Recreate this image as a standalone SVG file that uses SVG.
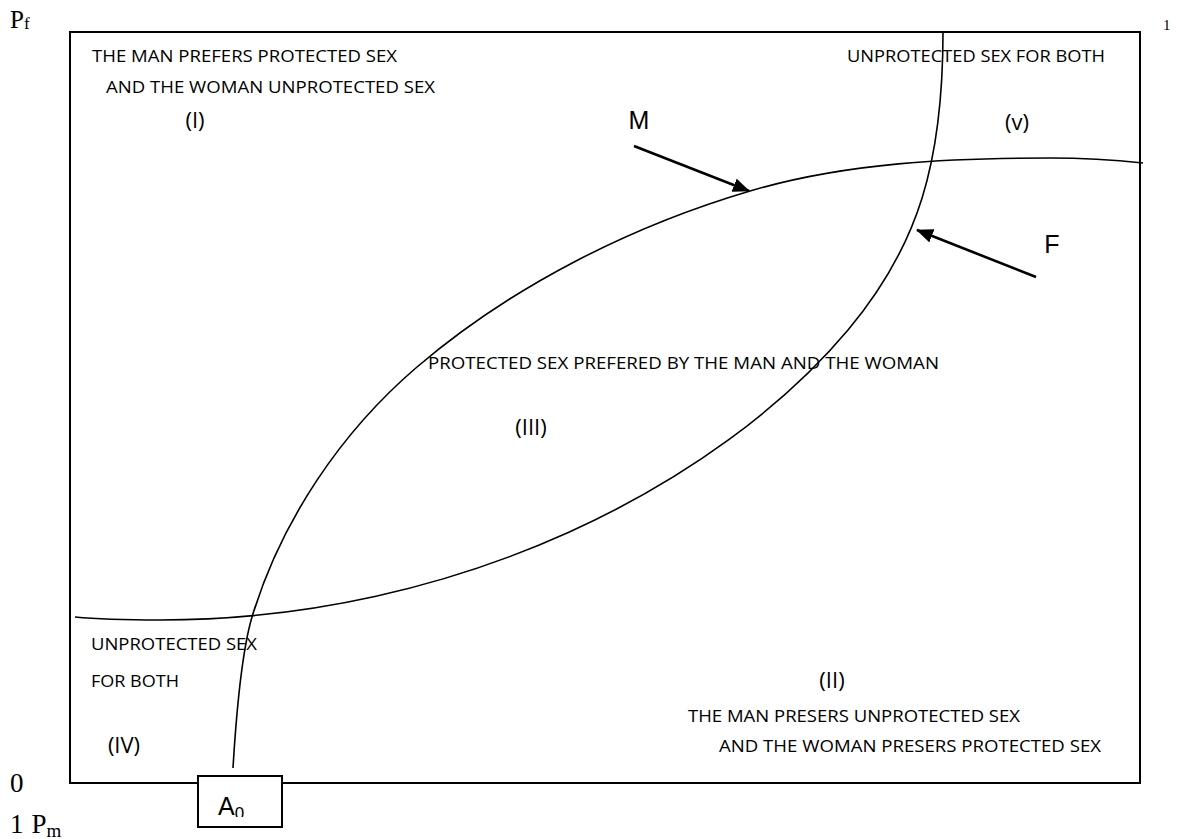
<svg xmlns="http://www.w3.org/2000/svg" width="1178" height="839" viewBox="0 0 1178 839">
<style>
.t{font-family:"Open Sans","Liberation Sans",sans-serif;font-size:17px;fill:#000}
.r{font-family:"Open Sans","Liberation Sans",sans-serif;font-size:22px;fill:#000;text-anchor:middle}
.a{font-family:"Liberation Sans",Arial,sans-serif;font-size:25px;fill:#000}
.s{font-family:"Liberation Serif","Times New Roman",serif;fill:#000}
.curve{fill:none;stroke:#000;stroke-width:1.6}
.arr{fill:none;stroke:#000;stroke-width:2.6}
</style>
<defs>
<marker id="head" markerUnits="userSpaceOnUse" markerWidth="18" markerHeight="14" refX="16" refY="7" orient="auto">
<path d="M0,0 L17,7 L0,14 z" fill="#000"/>
</marker>
<clipPath id="a0clip"><rect x="198" y="776" width="84" height="41"/></clipPath>
</defs>
<rect width="1178" height="839" fill="#fff"/>

<g id="axes">
<text class="s" x="10" y="28" font-size="25">P<tspan font-size="17" dy="1">f</tspan></text>
<text class="s" x="1163" y="30" font-size="15">1</text>
<text class="s" x="10" y="792" font-size="27">0</text>
<text class="s" x="10" y="833" font-size="27">1<tspan dx="8">P</tspan><tspan font-size="19" dy="4">m</tspan></text>
</g>

<g id="frame">
<rect x="70" y="32" width="1070" height="751" fill="none" stroke="#000" stroke-width="2"/>
</g>

<g id="connectors">
<path id="curveM" class="curve" d="M233,768 C236,718 242,651 252,617 C281,521 341,432 417,367 C512,286 630,226.5 750,191 C846,162.6 950,158 1050,158 C1080,158 1115,160 1143,163"/>
<path id="curveF" class="curve" d="M75,617 C100,619.5 130,620 160,620 C460,620 719.4,483.2 848,330 C918.7,245.7 943,162 943,32"/>
<line id="arrowM" class="arr" x1="634" y1="146" x2="749" y2="191" marker-end="url(#head)"/>
<line id="arrowF" class="arr" x1="1036" y1="277" x2="917" y2="230" marker-end="url(#head)"/>
</g>

<g id="region-I">
<text class="t" x="92" y="62" textLength="305" lengthAdjust="spacingAndGlyphs">THE MAN PREFERS PROTECTED SEX</text>
<text class="t" x="106" y="93" textLength="329" lengthAdjust="spacingAndGlyphs">AND THE WOMAN UNPROTECTED SEX</text>
<text class="r" x="195" y="128">(I)</text>
</g>

<g id="region-V">
<text class="t" x="847" y="62" textLength="258" lengthAdjust="spacingAndGlyphs">UNPROTECTED SEX FOR BOTH</text>
<text class="r" x="1017" y="130">(v)</text>
</g>

<g id="label-M"><text class="a" x="639" y="129" text-anchor="middle">M</text></g>
<g id="label-F"><text class="a" x="1052" y="253" text-anchor="middle">F</text></g>

<g id="region-III">
<text class="t" x="428" y="369" textLength="511" lengthAdjust="spacingAndGlyphs">PROTECTED SEX PREFERED BY THE MAN AND THE WOMAN</text>
<text class="r" x="531" y="435">(III)</text>
</g>

<g id="region-IV">
<text class="t" x="91" y="650" textLength="166" lengthAdjust="spacingAndGlyphs">UNPROTECTED SEX</text>
<text class="t" x="91" y="687" textLength="88" lengthAdjust="spacingAndGlyphs">FOR BOTH</text>
<text class="r" x="124" y="753" font-size="18">(IV)</text>
</g>

<g id="region-II">
<text class="r" x="832" y="688">(II)</text>
<text class="t" x="688" y="722" textLength="332" lengthAdjust="spacingAndGlyphs">THE MAN PRESERS UNPROTECTED SEX</text>
<text class="t" x="719" y="752" textLength="382" lengthAdjust="spacingAndGlyphs">AND THE WOMAN PRESERS PROTECTED SEX</text>
</g>

<g id="node-A0">
<rect x="198" y="776" width="84" height="51" fill="#fff" stroke="#000" stroke-width="2"/>
<text class="a" x="218" y="815" font-size="24" clip-path="url(#a0clip)">A<tspan font-size="17" dy="4">0</tspan></text>
</g>
</svg>
